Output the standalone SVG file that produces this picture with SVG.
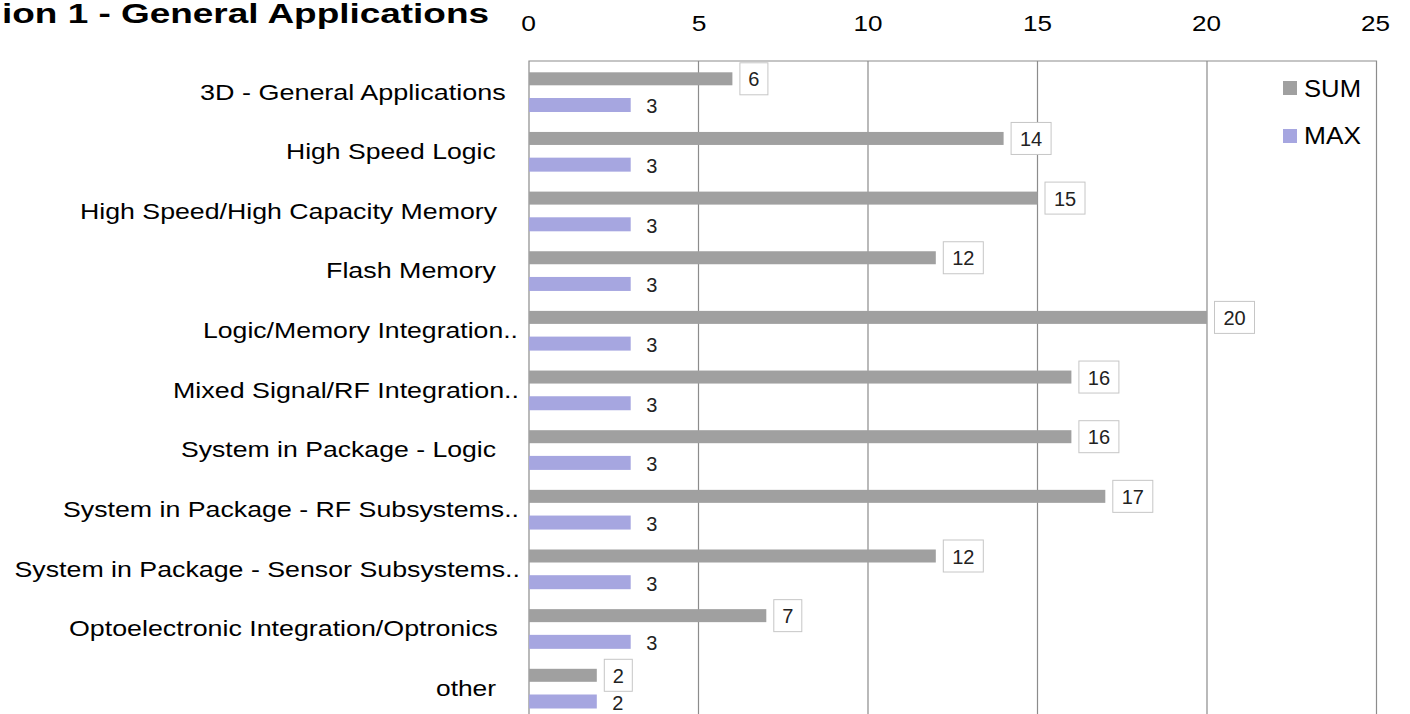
<svg xmlns="http://www.w3.org/2000/svg" width="1410" height="714" viewBox="0 0 1410 714">
<style>
text{font-family:"Liberation Sans",Arial,sans-serif;}
.title{font-size:28px;font-weight:bold;fill:#000;}
.tick{font-size:22px;fill:#000;text-anchor:middle;}
.cat{font-size:22px;fill:#000;}
.leg{font-size:24px;fill:#000;}
.grid{stroke:#8c8c8c;stroke-width:1.2;fill:none;}
.sum{fill:#a0a0a0;}
.max{fill:#a6a6e0;}
.box{fill:#fff;stroke:#c6c6c6;stroke-width:1;}
.val{font-size:20px;fill:#222;text-anchor:middle;}
</style>
<rect x="0" y="0" width="1410" height="714" fill="#fff"/>
<g id="title"><text class="title" x="2" y="23" textLength="487" lengthAdjust="spacingAndGlyphs">ion 1 - General Applications</text></g>
<g id="axis">
<text class="tick" x="528.5" y="31" textLength="14.7" lengthAdjust="spacingAndGlyphs">0</text>
<text class="tick" x="699" y="31" textLength="14.7" lengthAdjust="spacingAndGlyphs">5</text>
<text class="tick" x="868" y="31" textLength="29" lengthAdjust="spacingAndGlyphs">10</text>
<text class="tick" x="1037.5" y="31" textLength="29" lengthAdjust="spacingAndGlyphs">15</text>
<text class="tick" x="1206.5" y="31" textLength="29" lengthAdjust="spacingAndGlyphs">20</text>
<text class="tick" x="1375.5" y="31" textLength="29" lengthAdjust="spacingAndGlyphs">25</text>
</g>
<g id="grid">
<path class="grid" d="M529 714V61H1376.5V714M698.5 61V714M868 61V714M1037.5 61V714M1207 61V714"/>
</g>
<g id="legend">
<rect class="sum" x="1283" y="81" width="14" height="14"/>
<text class="leg" x="1304" y="97.3" textLength="57" lengthAdjust="spacingAndGlyphs">SUM</text>
<rect class="max" x="1283" y="129" width="14" height="14"/>
<text class="leg" x="1304" y="144.3" textLength="57" lengthAdjust="spacingAndGlyphs">MAX</text>
</g>
<g id="labels">
<text class="cat" x="200" y="99.5" textLength="305.7" lengthAdjust="spacingAndGlyphs">3D - General Applications</text>
<text class="cat" x="286" y="159.15" textLength="209.7" lengthAdjust="spacingAndGlyphs">High Speed Logic</text>
<text class="cat" x="80" y="218.8" textLength="417" lengthAdjust="spacingAndGlyphs">High Speed/High Capacity Memory</text>
<text class="cat" x="326" y="278.45" textLength="170" lengthAdjust="spacingAndGlyphs">Flash Memory</text>
<text class="cat" x="203" y="338.1" textLength="315" lengthAdjust="spacingAndGlyphs">Logic/Memory Integration..</text>
<text class="cat" x="173" y="397.75" textLength="346" lengthAdjust="spacingAndGlyphs">Mixed Signal/RF Integration..</text>
<text class="cat" x="181" y="457.4" textLength="315" lengthAdjust="spacingAndGlyphs">System in Package - Logic</text>
<text class="cat" x="63" y="517.05" textLength="456" lengthAdjust="spacingAndGlyphs">System in Package - RF Subsystems..</text>
<text class="cat" x="14.5" y="576.7" textLength="505.5" lengthAdjust="spacingAndGlyphs">System in Package - Sensor Subsystems..</text>
<text class="cat" x="69" y="636.35" textLength="429" lengthAdjust="spacingAndGlyphs">Optoelectronic Integration/Optronics</text>
<text class="cat" x="436" y="696" textLength="60" lengthAdjust="spacingAndGlyphs">other</text>
</g>
<g id="bars">
<rect class="sum" x="529" y="72.3" width="203.4" height="13"/>
<rect class="max" x="529" y="98" width="101.7" height="14"/>
<rect class="sum" x="529" y="131.95" width="474.6" height="13"/>
<rect class="max" x="529" y="157.65" width="101.7" height="14"/>
<rect class="sum" x="529" y="191.6" width="508.5" height="13"/>
<rect class="max" x="529" y="217.3" width="101.7" height="14"/>
<rect class="sum" x="529" y="251.25" width="406.8" height="13"/>
<rect class="max" x="529" y="276.95" width="101.7" height="14"/>
<rect class="sum" x="529" y="310.9" width="678" height="13"/>
<rect class="max" x="529" y="336.6" width="101.7" height="14"/>
<rect class="sum" x="529" y="370.55" width="542.4" height="13"/>
<rect class="max" x="529" y="396.25" width="101.7" height="14"/>
<rect class="sum" x="529" y="430.2" width="542.4" height="13"/>
<rect class="max" x="529" y="455.9" width="101.7" height="14"/>
<rect class="sum" x="529" y="489.85" width="576.3" height="13"/>
<rect class="max" x="529" y="515.55" width="101.7" height="14"/>
<rect class="sum" x="529" y="549.5" width="406.8" height="13"/>
<rect class="max" x="529" y="575.2" width="101.7" height="14"/>
<rect class="sum" x="529" y="609.15" width="237.3" height="13"/>
<rect class="max" x="529" y="634.85" width="101.7" height="14"/>
<rect class="sum" x="529" y="668.8" width="67.8" height="13"/>
<rect class="max" x="529" y="694.5" width="67.8" height="14"/>
</g>
<g id="values">
<rect class="box" x="739.9" y="62.8" width="28" height="32"/><text class="val" x="753.9" y="86.3">6</text>
<rect class="box" x="1011.1" y="122.45" width="40" height="32"/><text class="val" x="1031.1" y="145.95">14</text>
<rect class="box" x="1045" y="182.1" width="40" height="32"/><text class="val" x="1065" y="205.6">15</text>
<rect class="box" x="943.3" y="241.75" width="40" height="32"/><text class="val" x="963.3" y="265.25">12</text>
<rect class="box" x="1214.5" y="301.4" width="40" height="32"/><text class="val" x="1234.5" y="324.9">20</text>
<rect class="box" x="1078.9" y="361.05" width="40" height="32"/><text class="val" x="1098.9" y="384.55">16</text>
<rect class="box" x="1078.9" y="420.7" width="40" height="32"/><text class="val" x="1098.9" y="444.2">16</text>
<rect class="box" x="1112.8" y="480.35" width="40" height="32"/><text class="val" x="1132.8" y="503.85">17</text>
<rect class="box" x="943.3" y="540" width="40" height="32"/><text class="val" x="963.3" y="563.5">12</text>
<rect class="box" x="773.8" y="599.65" width="28" height="32"/><text class="val" x="787.8" y="623.15">7</text>
<rect class="box" x="604.3" y="659.3" width="28" height="32"/><text class="val" x="618.3" y="682.8">2</text>
<text class="val" x="651.7" y="113.3">3</text>
<text class="val" x="651.7" y="172.95">3</text>
<text class="val" x="651.7" y="232.6">3</text>
<text class="val" x="651.7" y="292.25">3</text>
<text class="val" x="651.7" y="351.9">3</text>
<text class="val" x="651.7" y="411.55">3</text>
<text class="val" x="651.7" y="471.2">3</text>
<text class="val" x="651.7" y="530.85">3</text>
<text class="val" x="651.7" y="590.5">3</text>
<text class="val" x="651.7" y="650.15">3</text>
<text class="val" x="617.8" y="709.8">2</text>
</g>
</svg>
